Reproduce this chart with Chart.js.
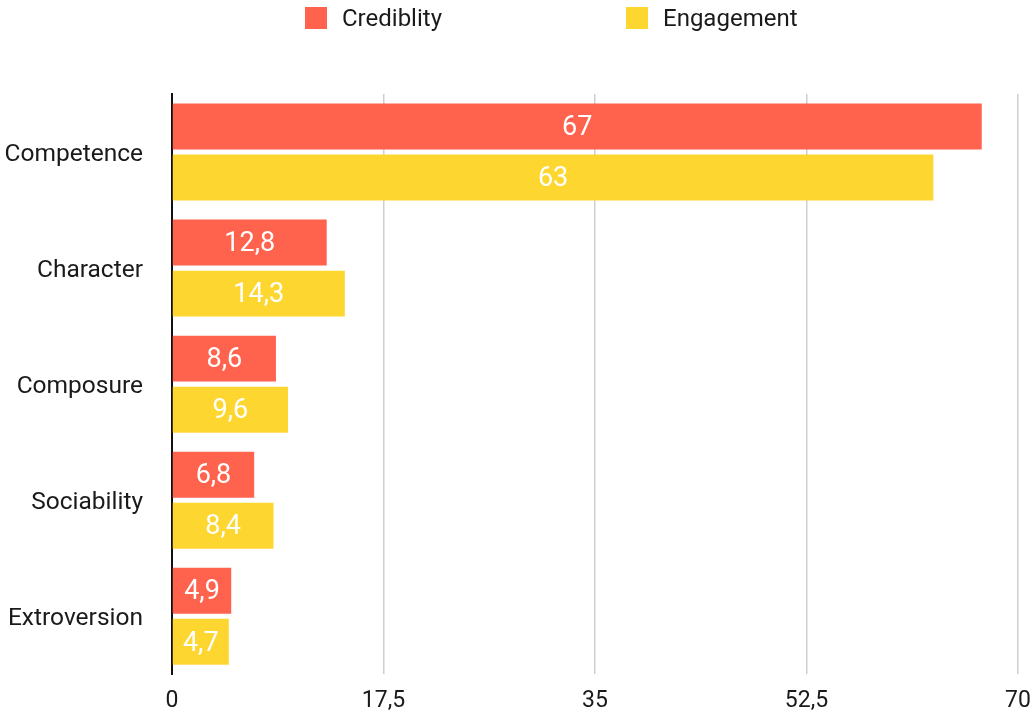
<!DOCTYPE html>
<html>
<head>
<meta charset="utf-8">
<script src="https://cdn.jsdelivr.net/npm/chart.js@4"></script>
<style>
  html, body { margin: 0; padding: 0; background: #ffffff; }
  #wrap { position: relative; width: 1034px; height: 718px; }
  #legend { position: absolute; top: 0; left: 0; width: 1034px; height: 36px; font-family: Roboto, "Liberation Sans", sans-serif; font-size: 24px; color: #1a1a1a; }
  .li { position: absolute; top: 7px; height: 22px; display: flex; align-items: center; white-space: nowrap; }
  .box { width: 22px; height: 22px; margin-right: 15px; flex: none; }
</style>
</head>
<body>
<div id="wrap">
  <canvas id="c" width="1034" height="718"></canvas>
  <div id="legend"></div>
</div>
<script>
const categories = ["Competence", "Character", "Composure", "Sociability", "Extroversion"];
const credibility = [67, 12.8, 8.6, 6.8, 4.9];
const engagement = [63, 14.3, 9.6, 8.4, 4.7];
const seriesNames = ["Crediblity", "Engagement"];
const tickValues = [0, 17.5, 35, 52.5, 70];

const RED = "#FF634E";
const YELLOW = "#FDD630";
const FONT = "Roboto, 'Liberation Sans', sans-serif";

const fmt = v => String(v).replace('.', ',');

const valueLabels = {
  id: 'valueLabels',
  afterDatasetsDraw(chart) {
    const ctx = chart.ctx;
    ctx.save();
    ctx.fillStyle = '#ffffff';
    ctx.font = "27px " + FONT;
    ctx.textAlign = 'center';
    ctx.textBaseline = 'middle';
    chart.data.datasets.forEach((ds, di) => {
      const meta = chart.getDatasetMeta(di);
      meta.data.forEach((el, i) => {
        const p = el.getProps(['x', 'y', 'base'], true);
        ctx.fillText(fmt(ds.data[i]), (p.x + p.base) / 2, p.y + 2);
      });
    });
    ctx.restore();
  }
};

const chart = new Chart(document.getElementById('c'), {
  type: 'bar',
  data: {
    labels: categories,
    datasets: [
      { label: seriesNames[0], data: credibility, backgroundColor: RED, categoryPercentage: 0.88, barPercentage: 0.9 },
      { label: seriesNames[1], data: engagement, backgroundColor: YELLOW, categoryPercentage: 0.88, barPercentage: 0.9 }
    ]
  },
  options: {
    indexAxis: 'y',
    responsive: false,
    animation: false,
    devicePixelRatio: 1,
    layout: { padding: { top: 94, right: 0, left: 0, bottom: 0 } },
    plugins: { legend: { display: false }, tooltip: { enabled: false } },
    scales: {
      x: {
        type: 'linear',
        min: 0, max: 70,
        afterBuildTicks: s => { s.ticks = tickValues.map(v => ({ value: v })); },
        afterFit: s => { s.height = 40; s.paddingRight = 16; },
        ticks: { callback: v => fmt(v), color: '#1a1a1a', font: { family: FONT, size: 23 }, padding: 13, maxRotation: 0, autoSkip: false },
        grid: { drawTicks: false, lineWidth: 1.5, color: c => (c.tick && c.tick.value === 0) ? 'rgba(0,0,0,0)' : '#cfcfcf' },
        border: { display: false }
      },
      y: {
        afterFit: s => { s.width = 172; },
        ticks: { color: '#1a1a1a', font: { family: FONT, size: 24.5 }, padding: 29, labelOffset: 3 },
        grid: { display: false, drawTicks: false },
        border: { display: true, color: '#111111', width: 2 }
      }
    }
  },
  plugins: [valueLabels]
});

// HTML legend built from the datasets
const legend = document.getElementById('legend');
const legendX = [305, 626];
chart.data.datasets.forEach((ds, i) => {
  const item = document.createElement('div');
  item.className = 'li';
  item.style.left = legendX[i] + 'px';
  const b = document.createElement('span');
  b.className = 'box';
  b.style.background = ds.backgroundColor;
  const t = document.createElement('span');
  t.textContent = ds.label;
  item.appendChild(b); item.appendChild(t);
  legend.appendChild(item);
});
</script>
</body>
</html>
